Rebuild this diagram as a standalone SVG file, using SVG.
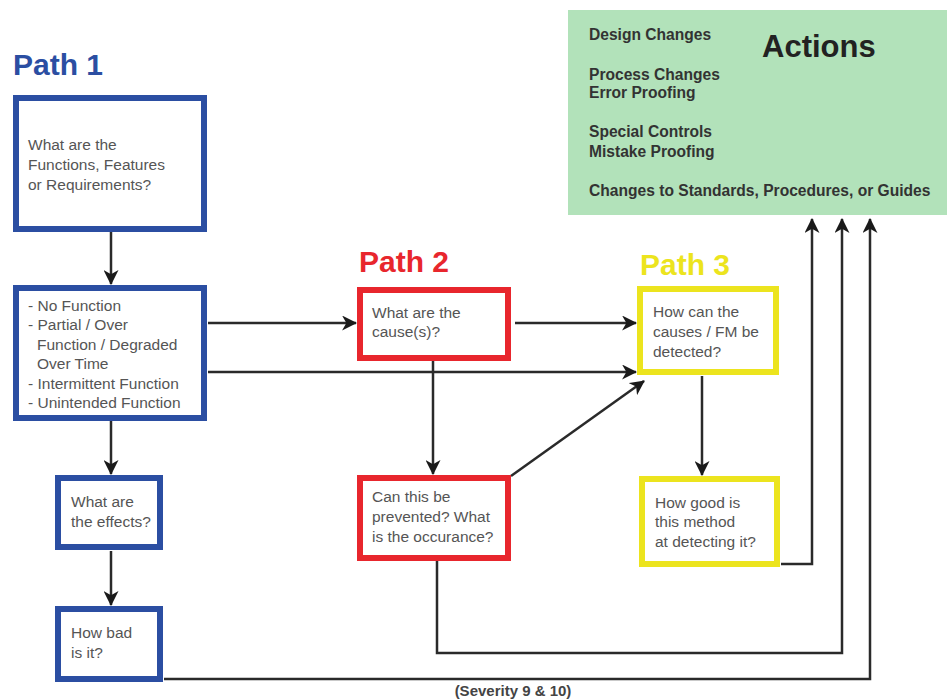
<svg xmlns="http://www.w3.org/2000/svg" width="947" height="700" viewBox="0 0 947 700">
  <style>
    .title { font-family: "Liberation Sans", Arial, sans-serif; font-weight: bold; font-size: 30px; }
    .p1 { fill: #2b4ea2; }
    .p2 { fill: #e8262d; }
    .p3 { fill: #ece41e; }
    .box { fill: #ffffff; stroke-width: 6; }
    .b1 { stroke: #2b4ea2; }
    .b2 { stroke: #e8262d; }
    .b3 { stroke: #ece41e; }
    .txt { font-family: "Liberation Sans", Arial, sans-serif; font-size: 15.5px; fill: #555555; }
    .act { font-family: "Liberation Sans", Arial, sans-serif; font-weight: bold; font-size: 15.6px; fill: #333333; }
    .wire { fill: none; stroke: #2a2a2a; stroke-width: 2.5; }
    .arrow { marker-end: url(#head); }
  </style>
  <defs>
    <marker id="head" viewBox="0 0 14 14" refX="13" refY="7" markerWidth="15" markerHeight="15" markerUnits="userSpaceOnUse" orient="auto">
      <path d="M0,0 L14,7 L0,14 L4,7 Z" fill="#1a1a1a"/>
    </marker>
  </defs>

  <rect width="947" height="700" fill="#ffffff"/>

  <!-- Actions panel -->
  <g id="actions">
    <rect x="568" y="10" width="379" height="205" fill="#b2e2ba"/>
    <text class="act" x="589" y="40">Design Changes</text>
    <text class="act" x="589" y="80">Process Changes</text>
    <text class="act" x="589" y="98">Error Proofing</text>
    <text class="act" x="589" y="137">Special Controls</text>
    <text class="act" x="589" y="157">Mistake Proofing</text>
    <text class="act" x="589" y="196">Changes to Standards, Procedures, or Guides</text>
    <text x="762" y="57" font-family="Liberation Sans, Arial, sans-serif" font-weight="bold" font-size="31" fill="#222222">Actions</text>
  </g>

  <!-- Path headings -->
  <text class="title p1" x="13" y="75">Path 1</text>
  <text class="title p2" x="359" y="272">Path 2</text>
  <text class="title p3" x="640" y="275">Path 3</text>

  <!-- Connectors -->
  <g id="connectors">
    <line class="wire arrow" x1="111" y1="232" x2="111" y2="284"/>
    <line class="wire arrow" x1="111" y1="421" x2="111" y2="474"/>
    <line class="wire arrow" x1="111" y1="551" x2="111" y2="605"/>
    <line class="wire arrow" x1="208" y1="323" x2="356" y2="323"/>
    <line class="wire arrow" x1="208" y1="372" x2="636" y2="372"/>
    <line class="wire arrow" x1="515" y1="323" x2="636" y2="323"/>
    <line class="wire arrow" x1="433" y1="361" x2="433" y2="474"/>
    <line class="wire arrow" x1="511" y1="476" x2="644" y2="381"/>
    <line class="wire arrow" x1="702" y1="376" x2="702" y2="475"/>
    <polyline class="wire arrow" points="781,564 812,564 812,219"/>
    <polyline class="wire arrow" points="437,561 437,653 842,653 842,219"/>
    <polyline class="wire arrow" points="164,679 870,679 870,219"/>
  </g>

  <!-- Path 1 nodes -->
  <g id="functions">
    <rect class="box b1" x="16" y="98" width="188" height="131"/>
    <text class="txt" x="28" y="150">What are the</text>
    <text class="txt" x="28" y="170">Functions, Features</text>
    <text class="txt" x="28" y="190">or Requirements?</text>
  </g>
  <g id="failure-modes">
    <rect class="box b1" x="16" y="288" width="188" height="130"/>
    <text class="txt" x="28" y="311">- No Function</text>
    <text class="txt" x="28" y="330">- Partial / Over</text>
    <text class="txt" x="37" y="350">Function / Degraded</text>
    <text class="txt" x="37" y="369">Over Time</text>
    <text class="txt" x="28" y="389">- Intermittent Function</text>
    <text class="txt" x="28" y="408">- Unintended Function</text>
  </g>
  <g id="effects">
    <rect class="box b1" x="58" y="478" width="102" height="69"/>
    <text class="txt" x="71" y="507">What are</text>
    <text class="txt" x="71" y="527">the effects?</text>
  </g>
  <g id="severity">
    <rect class="box b1" x="58" y="609" width="102" height="70"/>
    <text class="txt" x="71" y="638">How bad</text>
    <text class="txt" x="71" y="658">is it?</text>
  </g>

  <!-- Path 2 nodes -->
  <g id="causes">
    <rect class="box b2" x="360" y="290" width="148" height="68"/>
    <text class="txt" x="372" y="318">What are the</text>
    <text class="txt" x="372" y="337">cause(s)?</text>
  </g>
  <g id="occurrence">
    <rect class="box b2" x="360" y="478" width="148" height="80"/>
    <text class="txt" x="372" y="502">Can this be</text>
    <text class="txt" x="372" y="522">prevented? What</text>
    <text class="txt" x="372" y="542">is the occurance?</text>
  </g>

  <!-- Path 3 nodes -->
  <g id="detection">
    <rect class="box b3" x="640" y="289" width="136" height="83"/>
    <text class="txt" x="653" y="317">How can the</text>
    <text class="txt" x="653" y="337">causes / FM be</text>
    <text class="txt" x="653" y="357">detected?</text>
  </g>
  <g id="detection-rating">
    <rect class="box b3" x="642" y="479" width="135" height="85"/>
    <text class="txt" x="655" y="508">How good is</text>
    <text class="txt" x="655" y="527">this method</text>
    <text class="txt" x="655" y="547">at detecting it?</text>
  </g>

  <text x="513" y="696" text-anchor="middle" font-family="Liberation Sans, Arial, sans-serif" font-weight="bold" font-size="15" fill="#444444">(Severity 9 &amp; 10)</text>
</svg>
